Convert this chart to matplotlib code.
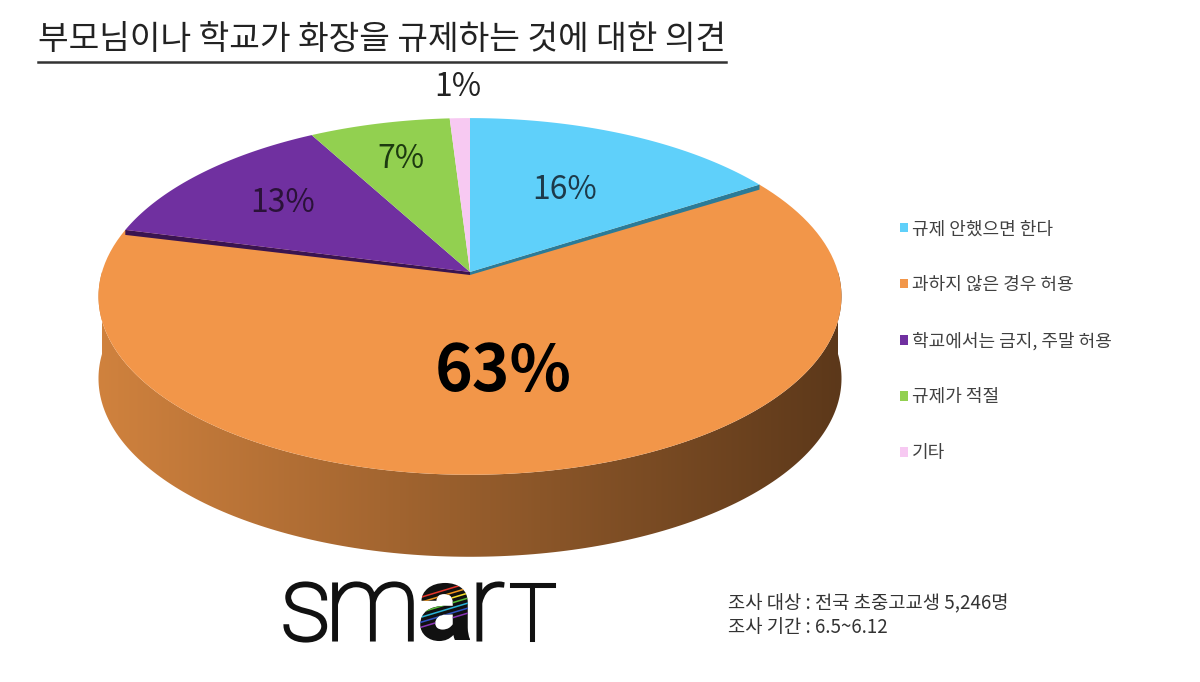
import matplotlib.pyplot as plt
import numpy as np
from matplotlib.patches import Polygon, Patch, PathPatch
from matplotlib.textpath import TextPath
from matplotlib.font_manager import FontProperties
from matplotlib.transforms import Affine2D

plt.rcParams['font.family'] = ['Noto Sans CJK KR', 'DejaVu Sans']

# data
labels = ['규제 안했으면 한다', '과하지 않은 경우 허용', '학교에서는 금지, 주말 허용', '규제가 적절', '기타']
values = [16, 63, 13, 7, 1]
pct_text = ['16%', '63%', '13%', '7%', '1%']
colors = ['#5fd0fa', '#f29649', '#7030a0', '#92d050', '#f7c9f2']
label_colors = ['#1d3a4a', '#000000', '#2a1238', '#1d3a10', '#222222']
title = '부모님이나 학교가 화장을 규제하는 것에 대한 의견'
notes = ['조사 대상 : 전국 초중고교생 5,246명', '조사 기간 : 6.5~6.12']

fig = plt.figure(figsize=(12, 6.82), dpi=100)
ax = fig.add_axes([0, 0, 1, 1])
ax.set_xlim(0, 1200)
ax.set_ylim(682, 0)
ax.axis('off')

# pie geometry (pixel space, simple perspective)
cx, cy = 470, 272
R, B, k = 368, 175, 0.137
depth = 82


def rim(t, dy=0):
    t = np.radians(t)
    d = 1 + k * np.sin(t)
    return np.column_stack([cx + R * np.cos(t) / d, cy - B * np.sin(t) / d + dy])


# side wall with gradient
ts = np.linspace(180, 360, 200)
side = np.vstack([rim(ts), rim(ts[::-1], depth)])
side_patch = Polygon(side, closed=True, facecolor='none', edgecolor='none')
ax.add_patch(side_patch)
grad = np.linspace(0, 1, 256)[None, :]
c0 = np.array([208, 130, 62]) / 255
c1 = np.array([92, 56, 26]) / 255
img = c0[None, None, :] * (1 - grad[..., None]) + c1[None, None, :] * grad[..., None]
im = ax.imshow(img, extent=(cx - R - 5, cx + R + 5, 600, 250), aspect='auto', zorder=1)
im.set_clip_path(side_patch)
ax.set_xlim(0, 1200)
ax.set_ylim(682, 0)

# top face slices
start = 90
bounds = []
for v in values:
    a0, a1 = start, start - 360 * v / 100
    bounds.append((a0, a1))
    start = a1

# orange first, then raised slices with a dark edge
order = [1, 0, 2, 3, 4]
edge_cols = {0: '#2b7b98', 2: '#3a1450'}
for i in order:
    a0, a1 = bounds[i]
    pts = np.vstack([[cx, cy], rim(np.linspace(a0, a1, 120))])
    if i in edge_cols:
        # edge that borders the orange slice
        a_edge = a1 if i == 0 else a0
        p = rim(np.array([a_edge]))[0]
        band = [[cx, cy], p, p + [0, 5], [cx, cy + 3]]
        ax.add_patch(Polygon(band, closed=True, facecolor=edge_cols[i], edgecolor='none', zorder=3.2))
    ax.add_patch(Polygon(pts, closed=True, facecolor=colors[i], edgecolor='none',
                         zorder=3 if i == 1 else 3.5))

# percentage labels
label_r = [0.6, 0.5, 0.7, 0.76, 1.2]
for i, (a0, a1) in enumerate(bounds):
    m = (a0 + a1) / 2
    p = rim(np.array([m]))[0]
    lx = cx + label_r[i] * (p[0] - cx)
    ly = cy + label_r[i] * (p[1] - cy)
    big = values[i] == max(values)
    ax.text(lx, ly, pct_text[i], ha='center', va='center',
            fontsize=46 if big else 23, fontweight='bold' if big else 'normal',
            color=label_colors[i], zorder=5)

# title with underline
t = ax.text(38, 40, title, fontsize=24, color='#222222', ha='left', va='center')
fig.canvas.draw()
bb = t.get_window_extent().transformed(ax.transData.inverted())
ax.plot([bb.x0, bb.x1], [bb.y0 + 4, bb.y0 + 4], color='#333333', lw=1.8)

# legend
handles = [Patch(facecolor=c, edgecolor='none') for c in colors]
fig.legend(handles, labels, loc='upper left', bbox_to_anchor=(884 / 1200, 1 - 204 / 682),
           frameon=False, fontsize=13, labelcolor='#404040', handlelength=0.42,
           handleheight=0.42, handletextpad=0.25, labelspacing=2.1)

# smart logo built from glyph outlines
fp_l = FontProperties(family='Roboto', weight='light')
fp_b = FontProperties(family='Roboto', weight='bold')
size = 106
logo = [('s', fp_l, size), ('m', fp_l, size), ('a', fp_b, size),
        ('r', fp_l, size), ('T', fp_l, size * 0.528 / 0.711)]
x = 285
base = 640
for ch, fp, s in logo:
    tp = TextPath((0, 0), ch, size=s, prop=fp)
    ext = tp.get_extents()
    tr = Affine2D().translate(-ext.x0, 0).scale(1, -1).translate(x, base)
    patch = PathPatch(tr.transform_path(tp), facecolor='#111111', edgecolor='#111111',
                      lw=0 if ch == 'a' else 2.2, zorder=4)
    ax.add_patch(patch)
    if ch == 'a':
        rainbow = ['#e8352a', '#f39a1e', '#f5e12a', '#57c23a', '#27b4d8', '#2f54c8', '#8a35b8']
        top = base - ext.y1
        for j, c in enumerate(rainbow):
            yy = top + 6 + j * 5
            ln, = ax.plot([x - 5, x + ext.width + 5], [yy + 10, yy - 8], color=c, lw=1.1, zorder=5)
            ln.set_clip_path(patch)
    x += ext.width + 8

for j, n in enumerate(notes):
    ax.text(728, 604 + j * 24, n, fontsize=13.5, color='#333333', ha='left', va='center')

fig.savefig('out.png', dpi=100)
